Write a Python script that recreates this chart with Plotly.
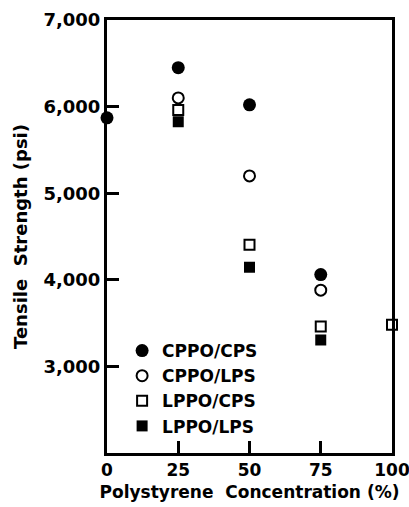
import plotly.graph_objects as go

series_names = ["CPPO/CPS", "CPPO/LPS", "LPPO/CPS", "LPPO/LPS"]
x_cppo_cps = [0, 25, 50, 75]
y_cppo_cps = [5870, 6450, 6020, 4060]
x_cppo_lps = [25, 50, 75]
y_cppo_lps = [6100, 5200, 3880]
x_lppo_cps = [25, 50, 75, 100]
y_lppo_cps = [5960, 4405, 3460, 3480]
x_lppo_lps = [25, 50, 75]
y_lppo_lps = [5825, 4145, 3305]

x_ticks = [0, 25, 50, 75, 100]
x_tick_labels = ["0", "25", "50", "75", "100"]
y_ticks = [3000, 4000, 5000, 6000, 7000]
y_tick_labels = ["3,000", "4,000", "5,000", "6,000", "7,000"]

FONT = "DejaVu Sans"

fig = go.Figure()
fig.add_trace(go.Scatter(x=x_cppo_cps, y=y_cppo_cps, mode="markers", name=series_names[0],
                         marker=dict(symbol="circle", size=13, color="black"), cliponaxis=False))
fig.add_trace(go.Scatter(x=x_cppo_lps, y=y_cppo_lps, mode="markers", name=series_names[1],
                         marker=dict(symbol="circle-open", size=11, color="black", line=dict(width=2, color="black")), cliponaxis=False))
fig.add_trace(go.Scatter(x=x_lppo_cps, y=y_lppo_cps, mode="markers", name=series_names[2],
                         marker=dict(symbol="square-open", size=10, color="black", line=dict(width=2, color="black")), cliponaxis=False))
fig.add_trace(go.Scatter(x=x_lppo_lps, y=y_lppo_lps, mode="markers", name=series_names[3],
                         marker=dict(symbol="square", size=11, color="black"), cliponaxis=False))

fig.update_layout(
    width=409, height=507,
    margin=dict(l=107, r=17, t=20, b=54),
    paper_bgcolor="white", plot_bgcolor="white",
    font=dict(family=FONT, color="black", size=17, weight="bold"),
    showlegend=True,
    legend=dict(x=0.053, y=0.277, xanchor="left", yanchor="top", bgcolor="rgba(0,0,0,0)",
                font=dict(family=FONT, size=17, weight="bold"), itemsizing="trace",
                tracegroupgap=0, itemwidth=30),
)
fig.update_xaxes(
    range=[0, 100], tickvals=x_ticks, ticktext=x_tick_labels, automargin=False,
    ticklabeloverflow="allow",
    showgrid=False, zeroline=False, showline=True, linecolor="black", linewidth=3, mirror=True,
    ticks="inside", ticklen=12, tickwidth=3, tickcolor="black",
    tickfont=dict(family=FONT, size=17, weight="bold"),
    title=dict(text="Polystyrene\u00a0\u00a0Concentration\u00a0(%)", font=dict(family=FONT, size=17, weight="bold"), standoff=7),
)
fig.update_yaxes(
    range=[2000, 7000], tickvals=y_ticks, ticktext=y_tick_labels, automargin=False,
    showgrid=False, zeroline=False, showline=True, linecolor="black", linewidth=3, mirror=True,
    ticks="inside", ticklen=12, tickwidth=3, tickcolor="black",
    tickfont=dict(family=FONT, size=18, weight="bold"),
    title=dict(text="Tensile\u00a0\u00a0Strength\u00a0(psi)", font=dict(family=FONT, size=18, weight="bold"), standoff=12),
)

fig.write_html("out.html")
